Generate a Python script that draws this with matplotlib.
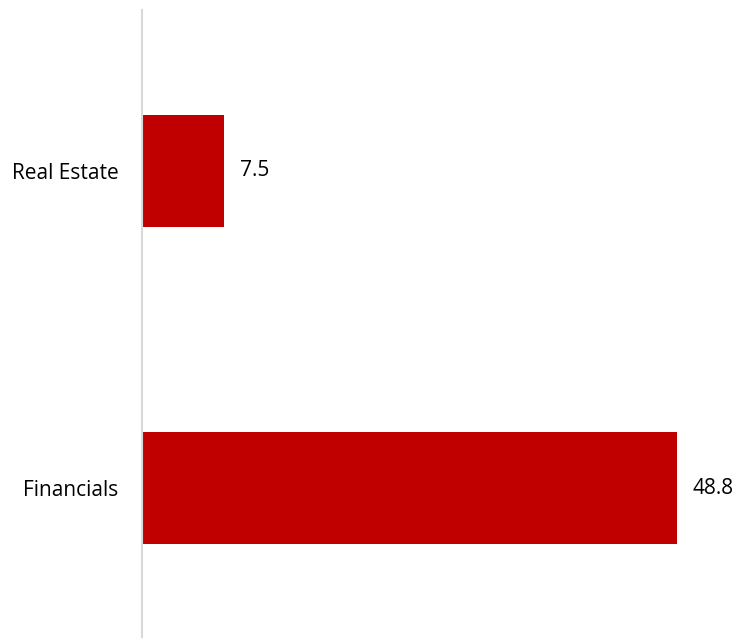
import matplotlib
matplotlib.use("Agg")
import matplotlib.pyplot as plt

categories = ["Financials", "Real Estate"]
values = [48.8, 7.5]
labels = ["48.8", "7.5"]

plt.rcParams['font.family'] = ['Open Sans', 'DejaVu Sans']

fig = plt.figure(figsize=(7.37, 6.42), dpi=100)
W, H = 737, 642
left, right, top, bottom = 142, 720, 10, 637
ax = fig.add_axes([left / W, 1 - bottom / H, (right - left) / W, (bottom - top) / H])

ypos = list(range(len(categories)))
ax.barh(ypos, values, height=0.353, color="#c00000")
for y, v, t in zip(ypos, values, labels):
    ax.text(v + 1.45, y, t, va="center", ha="left", fontsize=15, color="#000000")

ax.set_yticks(ypos)
ax.set_yticklabels(categories, fontsize=15, color="#000000")
ax.tick_params(axis="y", length=0, pad=17)
ax.set_xticks([])
ax.set_xlim(0, (right - left) / 10.96)
ax.set_ylim(-0.468, 1.507)
for s in ["top", "right", "bottom"]:
    ax.spines[s].set_visible(False)
ax.spines["left"].set_color("#d9d9d9")
ax.spines["left"].set_linewidth(1.5)

fig.savefig("out.png", dpi=100)
